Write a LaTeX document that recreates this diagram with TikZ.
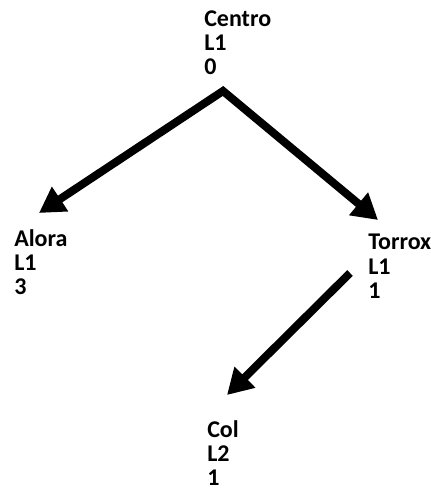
\documentclass[tikz,border=0pt]{standalone}
\usepackage{fontspec}
\setmainfont{Carlito}[BoldFont={Carlito Bold}]
\usetikzlibrary{arrows.meta}
\usetikzlibrary{positioning}

\begin{document}
\begin{tikzpicture}[x=0.75pt, y=-0.75pt, >={Triangle[length=19pt,width=21pt]},
  town/.style={anchor=north west, align=left, inner sep=0pt,
    font=\bfseries\fontsize{18}{18.3}\selectfont},
  branch/.style={line width=6pt, ->}]
\useasboundingbox (0,0) rectangle (430,492);

\node [town] (centro) at (204,10) {Centro\\L1\\0};
\node [town] (alora) at (14,229) {Alora\\L1\\3};
\node [town] (torrox) at (368,234) {Torrox\\L1\\1};
\node [town] (col) at (207,420) {Col\\L2\\1};

% arrow ends
\coordinate (top) at (223,91);
\coordinate (to-alora) at (39,213);
\coordinate (to-torrox) at (378,220);
\coordinate (from-torrox) at (350,273);
\coordinate (to-col) at (227,395);

\draw [line width=6pt, <->] (to-alora) -- (top) -- (to-torrox);
\draw [branch] (from-torrox) -- (to-col);
\end{tikzpicture}
\end{document}
